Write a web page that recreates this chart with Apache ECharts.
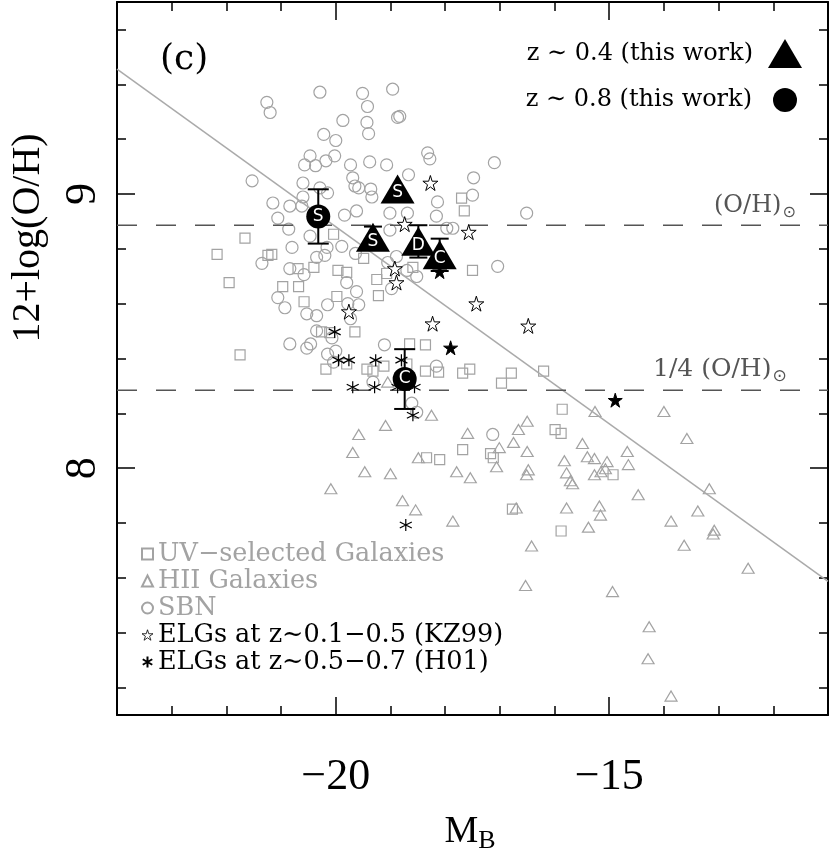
<!DOCTYPE html>
<html>
<head>
<meta charset="utf-8">
<script src="https://cdn.jsdelivr.net/npm/echarts@6/dist/echarts.min.js"></script>
<style>
  html, body { margin: 0; padding: 0; background: #fff; }
  #chart { width: 830px; height: 852px; }
</style>
</head>
<body>
<div id="chart"></div>
<script>
// axis ticks / labels
const xMinorTicks = [-23, -22, -21, -20, -19, -18, -17, -16, -15, -14, -13, -12];
const xMajorTicks = [-20, -15];
const yMinorTicks = [7.2, 7.4, 7.6, 7.8, 8.0, 8.2, 8.4, 8.6, 8.8, 9.0, 9.2, 9.4, 9.6];
const yMajorTicks = [8, 9];

// reference levels
const solarOH = 8.886;
const quarterSolarOH = 8.284;
const fitLine = [[-24, 9.455], [-11, 7.587]];

// comparison samples [M_B, 12+log(O/H)]
const uvSelected = [
  [-21.66, 8.839], [-20.04, 8.853], [-17.70, 8.985], [-17.65, 8.938], [-22.17, 8.780],
  [-21.24, 8.776], [-21.17, 8.780], [-21.95, 8.677], [-20.69, 8.728], [-20.40, 8.732],
  [-19.96, 8.721], [-19.80, 8.714], [-19.49, 8.765], [-20.97, 8.662], [-20.68, 8.662],
  [-20.58, 8.607], [-19.98, 8.626], [-19.25, 8.688], [-19.22, 8.629], [-18.59, 8.732],
  [-17.50, 8.721], [-20.26, 8.497], [-20.11, 8.494], [-19.65, 8.497], [-21.75, 8.413],
  [-18.65, 8.453], [-18.36, 8.450], [-20.18, 8.361], [-19.80, 8.380], [-19.43, 8.361],
  [-19.32, 8.354], [-19.12, 8.372], [-18.36, 8.354], [-18.12, 8.350], [-17.68, 8.347],
  [-17.55, 8.361], [-16.79, 8.347], [-16.97, 8.310], [-16.20, 8.354], [-15.86, 8.215],
  [-15.99, 8.141], [-15.88, 8.127], [-17.68, 8.068], [-17.17, 8.053], [-17.12, 8.038],
  [-18.34, 8.038], [-18.10, 8.031], [-14.93, 7.976], [-16.77, 7.851], [-15.88, 7.771],
  [-18.70, 8.380], [-19.07, 8.710]
];
const hiiGalaxies = [
  [-18.25, 8.193], [-19.09, 8.156], [-19.58, 8.123], [-19.69, 8.057], [-19.47, 7.987],
  [-19.00, 7.980], [-20.09, 7.925], [-18.49, 8.038], [-17.59, 8.127], [-16.50, 8.171],
  [-16.66, 8.141], [-17.01, 8.075], [-16.75, 8.094], [-16.50, 8.061], [-17.06, 8.005],
  [-17.79, 7.987], [-17.54, 7.965], [-16.48, 7.994], [-16.51, 7.976], [-15.82, 8.027],
  [-15.78, 7.983], [-15.71, 7.954], [-15.67, 7.943], [-15.49, 8.090], [-15.40, 8.042],
  [-15.27, 8.035], [-15.04, 8.024], [-15.27, 7.976], [-15.15, 7.987], [-15.07, 7.998],
  [-14.67, 8.061], [-14.65, 8.013], [-15.26, 8.207], [-14.00, 8.207], [-13.58, 8.108],
  [-14.47, 7.903], [-13.17, 7.925], [-13.38, 7.844], [-13.87, 7.807], [-13.08, 7.774],
  [-13.10, 7.760], [-13.63, 7.719], [-12.46, 7.635], [-14.94, 7.550], [-16.53, 7.572],
  [-16.42, 7.716], [-17.86, 7.807], [-18.54, 7.848], [-18.78, 7.881], [-16.70, 7.855],
  [-15.78, 7.855], [-15.18, 7.862], [-15.16, 7.829], [-15.38, 7.785], [-14.27, 7.422],
  [-14.29, 7.305], [-13.87, 7.169], [-19.05, 8.314]
];
const sbn = [
  [-20.29, 9.371], [-21.26, 9.334], [-21.20, 9.297], [-19.51, 9.367], [-19.42, 9.319],
  [-18.96, 9.382], [-19.87, 9.268], [-19.43, 9.261], [-19.40, 9.220], [-20.22, 9.217],
  [-20.00, 9.195], [-18.87, 9.279], [-20.47, 9.139], [-20.57, 9.106], [-20.37, 9.103],
  [-20.18, 9.121], [-20.02, 9.139], [-19.73, 9.106], [-19.38, 9.117], [-19.07, 9.106],
  [-21.53, 9.048], [-20.60, 9.040], [-19.69, 9.059], [-19.65, 9.029], [-19.58, 9.022],
  [-19.36, 9.018], [-19.34, 8.989], [-20.15, 9.004], [-20.60, 8.989], [-21.15, 8.967],
  [-20.84, 8.956], [-20.62, 8.956], [-19.84, 8.923], [-19.62, 8.938], [-19.01, 8.930],
  [-21.06, 8.912], [-20.86, 8.872], [-20.47, 8.846], [-19.89, 8.809], [-20.16, 8.805],
  [-19.64, 8.783], [-20.80, 8.805], [-20.35, 8.769], [-20.20, 8.776], [-21.35, 8.747],
  [-20.84, 8.728], [-20.58, 8.706], [-19.80, 8.677], [-19.62, 8.644], [-21.06, 8.622],
  [-19.05, 8.750], [-18.89, 8.772], [-18.83, 9.283], [-18.32, 9.150], [-18.28, 9.128],
  [-18.67, 9.070], [-17.10, 9.114], [-17.48, 9.059], [-17.50, 8.996], [-18.14, 8.971],
  [-18.69, 8.930], [-18.16, 8.919], [-17.97, 8.875], [-17.86, 8.875], [-16.51, 8.930],
  [-19.01, 8.868], [-18.70, 8.721], [-18.52, 8.699], [-17.04, 8.736], [-18.98, 8.655],
  [-20.93, 8.585], [-20.53, 8.563], [-20.35, 8.556], [-20.15, 8.596], [-19.78, 8.600],
  [-19.58, 8.596], [-19.73, 8.545], [-20.35, 8.501], [-20.07, 8.475], [-20.84, 8.453],
  [-20.53, 8.438], [-20.46, 8.453], [-20.15, 8.416], [-20.00, 8.427], [-20.04, 8.387],
  [-19.11, 8.450], [-18.16, 8.372], [-19.32, 8.314], [-18.61, 8.237], [-18.52, 8.204],
  [-17.13, 8.123], [-20.29, 9.022]
];
const kz99Open = [
  [-18.27, 9.040], [-18.74, 8.890], [-17.57, 8.861], [-18.92, 8.728], [-18.89, 8.677],
  [-19.76, 8.571], [-18.23, 8.527], [-17.43, 8.600], [-16.48, 8.519]
];
const kz99Filled = [[-18.10, 8.717], [-17.90, 8.439], [-14.89, 8.248]];
const h01 = [
  [-20.02, 8.497], [-19.95, 8.394], [-19.76, 8.394], [-19.27, 8.394], [-18.80, 8.394],
  [-19.69, 8.295], [-19.29, 8.295], [-18.87, 8.295], [-18.56, 8.295], [-18.59, 8.193],
  [-18.72, 7.793]
];

// this work
const z04 = [[-18.87, 9.018], [-19.32, 8.842], [-18.49, 8.828], [-18.10, 8.778]];
const z04Tags = ["S", "S", "D", "C"];
const z04Err = [[-19.32, 8.801, 8.881], [-18.49, 8.768, 8.886], [-18.10, 8.719, 8.837]];
const z08 = [[-20.32, 8.918], [-18.74, 8.325]];
const z08Tags = ["S", "C"];
const z08Err = [[-20.32, 8.819, 9.017], [-18.74, 8.216, 8.434]];

const GRAY = "#a3a3a3";
const SERIF = "DejaVu Serif";
const TICKFONT = "Liberation Serif";
const STAR = "path://M0,-100L22,-31L95,-31L36,12L59,81L0,38L-59,81L-36,12L-95,-31L-22,-31Z";
const ASTER = "path://M0,-10L0,10M-8.66,-5L8.66,5M-8.66,5L8.66,-5";

const LBL_UV = "UV\u2212selected Galaxies";
const LBL_HII = "HII Galaxies";
const LBL_SBN = "SBN";
const LBL_KZ = "ELGs at z\u223c0.1\u22120.5 (KZ99)";
const LBL_H01 = "ELGs at z\u223c0.5\u22120.7 (H01)";
const LBL_Z04 = "z \u223c 0.4 (this work)";
const LBL_Z08 = "z \u223c 0.8 (this work)";

const chart = echarts.init(document.getElementById("chart"));

function xAxisDef(pos, major, withLabels) {
  return {
    type: "value", position: pos, min: -24, max: -11, interval: 1,
    axisLine: { show: !major, onZero: false, lineStyle: { color: "#000", width: 2 } },
    axisTick: {
      show: true, inside: true, length: major ? 18 : 9,
      customValues: major ? xMajorTicks : xMinorTicks,
      lineStyle: { color: "#000", width: 1.5 },
    },
    axisLabel: withLabels ? {
      show: true, customValues: xMajorTicks, margin: 40,
      color: "#000", fontSize: 44, fontFamily: TICKFONT,
      formatter: (v) => String(v).replace("-", "\u2212"),
    } : { show: false },
    splitLine: { show: false },
  };
}

function yAxisDef(pos, major, withLabels) {
  return {
    type: "value", position: pos, min: 7.1, max: 9.7,
    axisLine: { show: !major, onZero: false, lineStyle: { color: "#000", width: 2 } },
    axisTick: {
      show: true, inside: true, length: major ? 18 : 9,
      customValues: major ? yMajorTicks : yMinorTicks,
      lineStyle: { color: "#000", width: 1.5 },
    },
    axisLabel: withLabels ? {
      show: true, customValues: yMajorTicks, margin: 12, rotate: 90,
      color: "#000", fontSize: 44, fontFamily: TICKFONT,
    } : { show: false },
    splitLine: { show: false },
  };
}

function errorBars(data, capHalf) {
  return {
    type: "custom", z: 4, silent: true,
    renderItem(params, api) {
      const lo = api.coord([api.value(0), api.value(1)]);
      const hi = api.coord([api.value(0), api.value(2)]);
      const style = { stroke: "#000", lineWidth: 2 };
      return {
        type: "group",
        children: [
          { type: "line", shape: { x1: lo[0], y1: lo[1], x2: hi[0], y2: hi[1] }, style },
          { type: "line", shape: { x1: lo[0] - capHalf, y1: lo[1], x2: lo[0] + capHalf, y2: lo[1] }, style },
          { type: "line", shape: { x1: hi[0] - capHalf, y1: hi[1], x2: hi[0] + capHalf, y2: hi[1] }, style },
        ],
      };
    },
    data,
  };
}

const hollow = { color: "rgba(255,255,255,0)", borderColor: GRAY, borderWidth: 1.2, opacity: 1 };

const option = {
  backgroundColor: "#fff",
  animation: false,
  grid: { left: 117, right: 2, top: 2, bottom: 137, containLabel: false },
  xAxis: [
    xAxisDef("bottom", false, true),
    xAxisDef("bottom", true, false),
    xAxisDef("top", false, false),
    xAxisDef("top", true, false),
  ],
  yAxis: [
    yAxisDef("left", false, true),
    yAxisDef("left", true, false),
    yAxisDef("right", false, false),
    yAxisDef("right", true, false),
  ],
  legend: [
    {
      orient: "vertical", left: 136, top: 536, selectedMode: false,
      itemWidth: 11, itemHeight: 11, itemGap: 1,
      textStyle: { fontFamily: SERIF, fontSize: 25.5, color: "#000" },
      data: [
        { name: LBL_UV, textStyle: { color: GRAY } },
        { name: LBL_HII, textStyle: { color: GRAY } },
        { name: LBL_SBN, textStyle: { color: GRAY } },
        { name: LBL_KZ, itemStyle: { borderWidth: 0.8 } },
        { name: LBL_H01 },
      ],
    },
    {
      right: 23, top: 34, align: "right", selectedMode: false,
      itemWidth: 34, itemHeight: 29,
      textStyle: { fontFamily: SERIF, fontSize: 24, color: "#000", padding: [0, 10, 0, 0] },
      data: [LBL_Z04],
    },
    {
      right: 28, top: 83, align: "right", selectedMode: false,
      itemWidth: 24, itemHeight: 24,
      textStyle: { fontFamily: SERIF, fontSize: 24, color: "#000", padding: [0, 16, 0, 0] },
      data: [LBL_Z08],
    },
  ],
  series: [
    { name: LBL_UV, type: "scatter", symbol: "rect", symbolSize: 10, itemStyle: hollow, data: uvSelected, silent: true },
    { name: LBL_HII, type: "scatter", symbol: "triangle", symbolSize: [12, 10], itemStyle: hollow, data: hiiGalaxies, silent: true },
    { name: LBL_SBN, type: "scatter", symbol: "circle", symbolSize: 12, itemStyle: hollow, data: sbn, silent: true },
    {
      name: "fit", type: "line", data: fitLine, symbol: "none", silent: true, z: 3,
      lineStyle: { color: "#aaaaaa", width: 1.5 },
    },
    {
      name: "solar", type: "line", data: [[-24, solarOH], [-11, solarOH]], symbol: "none", silent: true, z: 3,
      lineStyle: { color: "#555", width: 1.5, type: [20, 19] },
    },
    {
      name: "quarter", type: "line", data: [[-24, quarterSolarOH], [-11, quarterSolarOH]], symbol: "none", silent: true, z: 3,
      lineStyle: { color: "#555", width: 1.5, type: [20, 19] },
    },
    {
      name: LBL_KZ, type: "scatter", symbol: STAR, symbolSize: 15, z: 5, silent: true,
      itemStyle: { color: "#fff", borderColor: "#000", borderWidth: 1, opacity: 1 }, data: kz99Open,
    },
    {
      name: "kz99filled", type: "scatter", symbol: STAR, symbolSize: 14, z: 5, silent: true,
      itemStyle: { color: "#000", borderColor: "#000", borderWidth: 1, opacity: 1 }, data: kz99Filled,
    },
    {
      name: LBL_H01, type: "scatter", symbol: ASTER, symbolSize: 12, z: 5, silent: true,
      itemStyle: { color: "#000", borderColor: "#000", borderWidth: 1.2, opacity: 1 }, data: h01,
    },
    errorBars(z04Err, 9),
    errorBars(z08Err, 10.5),
    {
      name: LBL_Z04, type: "scatter", symbol: "triangle", symbolSize: [34, 29], z: 6, silent: true,
      itemStyle: { color: "#000", opacity: 1 }, data: z04,
      label: {
        show: true, position: "inside", offset: [0, 4], color: "#fff",
        fontFamily: "DejaVu Sans", fontSize: 17,
        formatter: (p) => z04Tags[p.dataIndex],
      },
    },
    {
      name: LBL_Z08, type: "scatter", symbol: "circle", symbolSize: 24, z: 6, silent: true,
      itemStyle: { color: "#000", opacity: 1 }, data: z08,
      label: {
        show: true, position: "inside", color: "#fff",
        fontFamily: "DejaVu Sans", fontSize: 17,
        formatter: (p) => z08Tags[p.dataIndex],
      },
    },
  ],
  graphic: [
    {
      type: "text", left: 160, top: 42, silent: true,
      style: { text: "(c)", font: "36px 'DejaVu Serif'", fill: "#000" },
    },
    {
      type: "text", x: 28, y: 238, rotation: Math.PI / 2, silent: true,
      style: {
        text: "12+log(O/H)", font: "40px 'Liberation Serif'", fill: "#000",
        align: "center", verticalAlign: "middle",
      },
    },
    {
      type: "text", x: 470, y: 832, silent: true,
      style: {
        text: "{m|M}{b|B}", align: "center", verticalAlign: "middle",
        rich: {
          m: { font: "38px 'Liberation Serif'", fill: "#000" },
          b: { font: "26px 'Liberation Serif'", fill: "#000", padding: [18, 0, 0, 0] },
        },
      },
    },
    {
      type: "text", left: 714, top: 194, silent: true,
      style: {
        text: "{t|(O/H)}{s|\u2299}",
        rich: {
          t: { font: "24px 'DejaVu Serif'", fill: "#555" },
          s: { font: "16px 'DejaVu Sans'", fill: "#555", padding: [14, 0, 0, 1] },
        },
      },
    },
    {
      type: "text", left: 653, top: 357, silent: true,
      style: {
        text: "{t|1/4 (O/H)}{s|\u2299}",
        rich: {
          t: { font: "25px 'DejaVu Serif'", fill: "#555" },
          s: { font: "17px 'DejaVu Sans'", fill: "#555", padding: [14, 0, 0, 1] },
        },
      },
    },
  ],
};

chart.setOption(option);
</script>
</body>
</html>
